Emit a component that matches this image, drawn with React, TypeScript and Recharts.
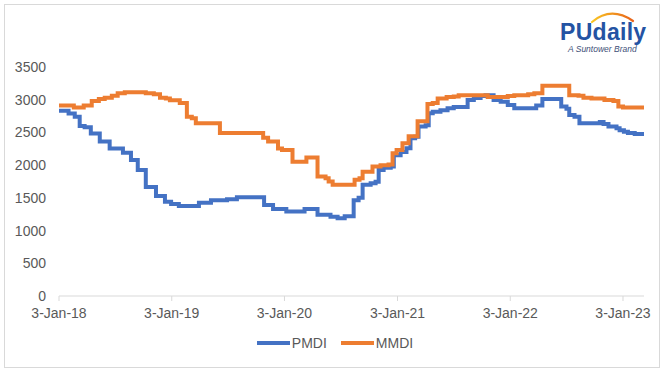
import React from "react";
import { LineChart, Line, XAxis, YAxis } from "recharts";

const pmdiDates = [
  "2018-01-03", "2018-02-03", "2018-02-23", "2018-03-11", "2018-03-27", "2018-04-16", "2018-05-15",
  "2018-06-16", "2018-07-29", "2018-08-24", "2018-09-15", "2018-10-11", "2018-11-13", "2018-12-12",
  "2019-01-01", "2019-01-26", "2019-04-01", "2019-05-10", "2019-07-01", "2019-08-02", "2019-10-29",
  "2019-11-27", "2020-01-09", "2020-03-08", "2020-04-19", "2020-05-31", "2020-06-23", "2020-07-16",
  "2020-08-14", "2020-08-30", "2020-09-12", "2020-10-08", "2020-10-24", "2020-11-03", "2020-11-19",
  "2020-12-12", "2020-12-22", "2021-01-13", "2021-02-01", "2021-02-14", "2021-03-01", "2021-03-12",
  "2021-04-04", "2021-04-14", "2021-04-27", "2021-05-22", "2021-06-14", "2021-07-04", "2021-08-18",
  "2021-09-07", "2021-09-29", "2021-10-15", "2021-11-10", "2021-12-03", "2021-12-26", "2022-01-16",
  "2022-03-28", "2022-04-17", "2022-06-17", "2022-07-04", "2022-07-13", "2022-07-30", "2022-08-15",
  "2022-10-20", "2022-11-01", "2022-11-17", "2022-12-13", "2022-12-23", "2023-01-06", "2023-01-19",
  "2023-02-10", "2023-03-12",
];
const pmdiValues = [
  2830, 2790, 2740, 2600, 2580, 2485, 2360,
  2255, 2190, 2080, 1925, 1665, 1530, 1440,
  1405, 1375, 1425, 1465, 1480, 1510, 1390,
  1330, 1290, 1330, 1240, 1210, 1190, 1220,
  1465, 1500, 1700, 1725, 1745, 1925, 1960,
  1980, 2150, 2200, 2260, 2410, 2435, 2590,
  2610, 2795, 2815, 2840, 2870, 2890, 2995,
  3025, 3055, 3070, 2995, 2970, 2920, 2870,
  2910, 3010, 2895, 2860, 2765, 2740, 2640,
  2660, 2630, 2590, 2565, 2535, 2510, 2490,
  2475, 2475,
];

const mmdiDates = [
  "2018-01-03", "2018-02-20", "2018-03-24", "2018-04-19", "2018-05-12", "2018-05-31", "2018-06-23",
  "2018-07-12", "2018-08-04", "2018-10-11", "2018-11-06", "2018-11-26", "2018-12-15", "2018-12-28",
  "2019-01-29", "2019-02-21", "2019-03-09", "2019-03-22", "2019-06-08", "2019-10-26", "2019-11-11",
  "2019-12-13", "2019-12-26", "2020-01-29", "2020-03-14", "2020-04-19", "2020-05-15", "2020-05-25",
  "2020-06-07", "2020-08-17", "2020-09-02", "2020-09-12", "2020-10-14", "2020-11-09", "2020-12-05",
  "2020-12-18", "2020-12-31", "2021-01-19", "2021-02-08", "2021-03-09", "2021-04-10", "2021-04-27",
  "2021-05-13", "2021-06-11", "2021-07-04", "2021-07-20", "2021-10-22", "2021-12-26", "2022-01-16",
  "2022-03-02", "2022-03-22", "2022-04-17", "2022-07-13", "2022-08-12", "2022-08-28", "2022-09-23",
  "2022-11-04", "2022-12-03", "2022-12-19", "2023-01-03", "2023-03-12",
];
const mmdiValues = [
  2910, 2880, 2910, 2980, 3010, 3030, 3060,
  3100, 3115, 3100, 3085, 3030, 3020, 2990,
  2950, 2740, 2715, 2640, 2490, 2420, 2360,
  2255, 2230, 2050, 2115, 1825, 1800, 1750,
  1700, 1775, 1800, 1900, 1980, 2000, 2010,
  2180, 2230, 2335, 2440, 2670, 2935, 2950,
  3020, 3040, 3050, 3070, 3040, 3055, 3070,
  3085, 3100, 3215, 3070, 3060, 3030, 3020,
  2995, 2980, 2895, 2880, 2880,
];

const xTickDates = ["2018-01-03", "2019-01-03", "2020-01-03", "2021-01-03", "2022-01-03", "2023-01-03"];
const yTicks = [0, 500, 1000, 1500, 2000, 2500, 3000, 3500];
const seriesNames = ["PMDI", "MMDI"];
const seriesColors = ["#4472C4", "#ED7D31"];

const MONTHS = ["Jan", "Feb", "Mar", "Apr", "May", "Jun", "Jul", "Aug", "Sep", "Oct", "Nov", "Dec"];
const toTs = (s: string) => Date.parse(s + "T00:00:00Z");
const fmtDate = (ts: number) => {
  const d = new Date(ts);
  return `${d.getUTCDate()}-${MONTHS[d.getUTCMonth()]}-${String(d.getUTCFullYear()).slice(2)}`;
};

const pmdiData = pmdiDates.map((d, i) => ({ t: toTs(d), v: pmdiValues[i] }));
const mmdiData = mmdiDates.map((d, i) => ({ t: toTs(d), v: mmdiValues[i] }));
const xTicks = xTickDates.map(toTs);
const xMin = toTs(pmdiDates[0]);
const xMax = toTs(pmdiDates[pmdiDates.length - 1]);

const FONT = '"Liberation Sans", Arial, sans-serif';

export default function App() {
  return (
    <div style={{ position: "absolute", left: 0, top: 0, width: 664, height: 373, background: "#fff", fontFamily: FONT }}>
      <div
        style={{
          position: "absolute",
          left: 4,
          top: 4,
          width: 656,
          height: 364,
          border: "1px solid #d9d9d9",
          boxSizing: "border-box",
        }}
      />
      <LineChart
        width={664}
        height={373}
        margin={{ top: 67, right: 20, bottom: 47, left: 9 }}
        style={{ position: "absolute", left: 0, top: 0 }}
      >
        <XAxis
          type="number"
          dataKey="t"
          domain={[xMin, xMax]}
          ticks={xTicks}
          tickFormatter={fmtDate}
          allowDuplicatedCategory={false}
          height={30}
          axisLine={{ stroke: "#d9d9d9" }}
          tickLine={{ stroke: "#d9d9d9" }}
          tickSize={5}
          tickMargin={7}
          tick={{ fill: "#595959", fontSize: 14, fontFamily: FONT }}
        />
        <YAxis
          type="number"
          domain={[0, 3500]}
          ticks={yTicks}
          width={50}
          axisLine={false}
          tickLine={false}
          tickSize={0}
          tickMargin={13}
          tick={{ fill: "#595959", fontSize: 14, fontFamily: FONT }}
        />
        <Line
          data={pmdiData}
          dataKey="v"
          name={seriesNames[0]}
          type="stepAfter"
          stroke={seriesColors[0]}
          strokeWidth={4}
          dot={false}
          activeDot={false}
          isAnimationActive={false}
        />
        <Line
          data={mmdiData}
          dataKey="v"
          name={seriesNames[1]}
          type="stepAfter"
          stroke={seriesColors[1]}
          strokeWidth={4}
          dot={false}
          activeDot={false}
          isAnimationActive={false}
        />
      </LineChart>

      <div
        style={{
          position: "absolute",
          left: 0,
          top: 335,
          width: 664,
          paddingLeft: 6,
          boxSizing: "border-box",
          display: "flex",
          justifyContent: "center",
          alignItems: "center",
          lineHeight: "16px",
          fontSize: 14,
          color: "#595959",
        }}
      >
        {seriesNames.map((n, i) => (
          <div key={n} style={{ display: "flex", alignItems: "center", marginLeft: i === 0 ? 0 : 14 }}>
            <div style={{ width: 33, height: 4, background: seriesColors[i], marginRight: 2 }} />
            <span>{n}</span>
          </div>
        ))}
      </div>

      <svg style={{ position: "absolute", left: 585, top: 8 }} width={56} height={20}>
        <defs>
          <linearGradient id="arcGrad" x1="0" y1="0" x2="1" y2="0">
            <stop offset="0" stopColor="#f9c623" />
            <stop offset="1" stopColor="#e8621a" />
          </linearGradient>
        </defs>
        <path d="M7 14 Q 26 -2 48 13" fill="none" stroke="url(#arcGrad)" strokeWidth={2.2} strokeLinecap="round" />
      </svg>
      <div
        style={{
          position: "absolute",
          left: 560,
          top: 21,
          fontSize: 23,
          fontWeight: "bold",
          lineHeight: "23px",
          color: "#2453a3",
          letterSpacing: 0.3,
          fontFamily: FONT,
        }}
      >
        PUdaily
      </div>
      <div
        style={{
          position: "absolute",
          left: 568,
          top: 45,
          fontSize: 8.5,
          fontStyle: "italic",
          lineHeight: "9px",
          color: "#3e4f78",
          fontFamily: FONT,
        }}
      >
        A Suntower Brand
      </div>
    </div>
  );
}
